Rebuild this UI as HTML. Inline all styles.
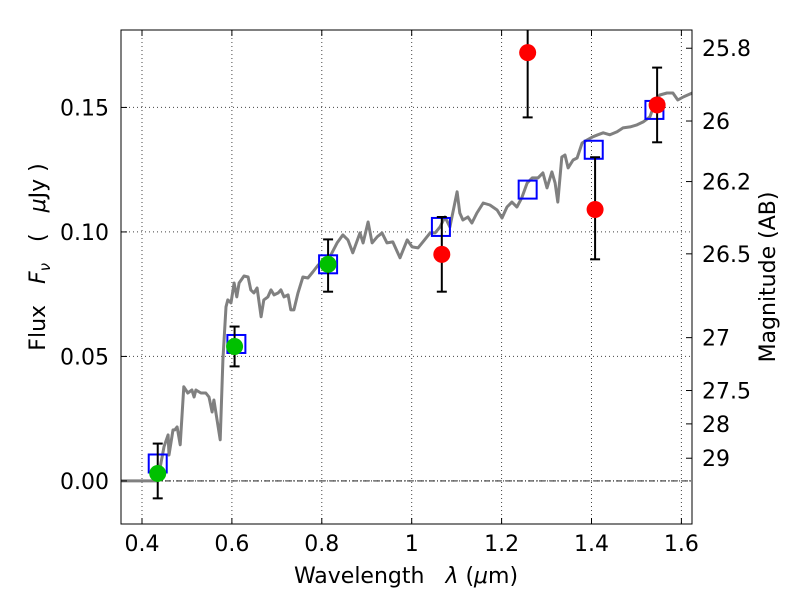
<!DOCTYPE html>
<html><head><meta charset="utf-8"><style>
body{margin:0;background:#fff;}
svg text{font-family:"DejaVu Sans","Liberation Sans",sans-serif;white-space:pre;}
</style></head><body>
<svg id="chart" width="800" height="600" xmlns="http://www.w3.org/2000/svg">
<defs><clipPath id="clip"><rect x="121" y="30" width="571" height="494"/></clipPath></defs>
<rect x="0" y="0" width="800" height="600" fill="#fff"/>
<g id="grid"></g>
<g id="marks" clip-path="url(#clip)"></g>
<rect x="121" y="30" width="571" height="494" fill="none" stroke="#000" stroke-width="1"/>
<g id="ticks"></g>
<text x="406" y="583" font-size="22" text-anchor="middle" xml:space="preserve">Wavelength   <tspan font-style="italic">λ</tspan> (<tspan font-style="italic">μ</tspan>m)</text>
<text transform="translate(45,257) rotate(-90)" font-size="22" text-anchor="middle" xml:space="preserve">Flux   <tspan font-style="italic">F</tspan><tspan font-style="italic" font-size="15" dy="5">ν</tspan><tspan dy="-5">   (   </tspan><tspan font-style="italic">μ</tspan>Jy )</text>
<text transform="translate(775,277) rotate(-90)" font-size="22" text-anchor="middle">Magnitude (AB)</text>
</svg>
<script>
const specLam=[0.353,0.433,0.436,0.449,0.458,0.460,0.469,0.473,0.478,0.485,0.493,0.502,0.511,0.516,0.520,0.531,0.542,0.549,0.556,0.560,0.574,0.580,0.587,0.591,0.598,0.605,0.611,0.616,0.627,0.636,0.642,0.649,0.656,0.665,0.671,0.680,0.687,0.694,0.703,0.709,0.716,0.725,0.731,0.738,0.747,0.758,0.769,0.780,0.792,0.818,0.834,0.847,0.858,0.869,0.885,0.892,0.903,0.912,0.923,0.934,0.945,0.958,0.974,0.990,1.001,1.014,1.025,1.041,1.052,1.063,1.074,1.085,1.101,1.107,1.114,1.125,1.134,1.145,1.159,1.174,1.190,1.201,1.212,1.223,1.234,1.245,1.257,1.268,1.281,1.292,1.301,1.312,1.319,1.325,1.334,1.341,1.348,1.359,1.368,1.379,1.390,1.403,1.414,1.426,1.441,1.457,1.470,1.486,1.501,1.515,1.530,1.541,1.552,1.568,1.581,1.592,1.604,1.624];
const specFlux=[0,0,0.0012,0.0137,0.0185,0.0104,0.0205,0.0205,0.0217,0.0145,0.0378,0.0353,0.0365,0.0337,0.0365,0.0353,0.0353,0.0337,0.0277,0.0325,0.0165,0.0486,0.0699,0.0727,0.0715,0.0795,0.0739,0.0795,0.0823,0.0819,0.0767,0.0755,0.0775,0.0659,0.0727,0.0739,0.0767,0.0747,0.0755,0.0767,0.0739,0.0747,0.0687,0.0687,0.0755,0.0819,0.0815,0.0839,0.0867,0.0900,0.0956,0.0988,0.0968,0.0916,0.0996,0.0956,0.1040,0.0956,0.0980,0.0996,0.0956,0.0960,0.0896,0.0968,0.0940,0.0936,0.0960,0.0996,0.0996,0.1020,0.1060,0.1020,0.1161,0.1076,0.1048,0.1060,0.1036,0.1076,0.1116,0.1108,0.1088,0.1056,0.1100,0.1120,0.1100,0.1137,0.1197,0.1217,0.1217,0.1237,0.1177,0.1241,0.1197,0.1120,0.1301,0.1309,0.1257,0.1289,0.1297,0.1357,0.1369,0.1382,0.1390,0.1398,0.1390,0.1402,0.1418,0.1422,0.1430,0.1442,0.1462,0.1518,0.1550,0.1558,0.1558,0.1530,0.1542,0.1558];
const greenLam=[0.435,0.606,0.814];
const greenFlux=[0.003,0.054,0.087];
const greenLo=[-0.007,0.046,0.076];
const greenHi=[0.015,0.062,0.097];
const redLam=[1.067,1.258,1.408,1.546];
const redFlux=[0.091,0.172,0.109,0.151];
const redLo=[0.076,0.146,0.089,0.136];
const redHi=[0.106,0.200,0.130,0.166];
const modelLam=[0.435,0.610,0.814,1.065,1.258,1.405,1.540];
const modelFlux=[0.007,0.055,0.087,0.102,0.117,0.133,0.149];
const xTicks=[0.4,0.6,0.8,1.0,1.2,1.4,1.6];
const xTickLabels=["0.4","0.6","0.8","1","1.2","1.4","1.6"];
const yTicks=[0,0.05,0.10,0.15];
const yTickLabels=["0.00","0.05","0.10","0.15"];
const magTicks=[25.8,26,26.2,26.5,27,27.5,28,29];
const magTickLabels=["25.8","26","26.2","26.5","27","27.5","28","29"];

const NS="http://www.w3.org/2000/svg";
const X0=121,X1=692,Y0=30,Y1=524,xmin=0.3533,xmax=1.6236,ymin=-0.0173,ymax=0.1811;
function sx(v){return X0+(v-xmin)/(xmax-xmin)*(X1-X0);}
function sy(v){return Y1-(v-ymin)/(ymax-ymin)*(Y1-Y0);}
function mk(tag,attrs,parent){const e=document.createElementNS(NS,tag);for(const k in attrs)e.setAttribute(k,attrs[k]);parent.appendChild(e);return e;}
const grid=document.getElementById('grid'),marks=document.getElementById('marks'),ticks=document.getElementById('ticks');

xTicks.forEach((v,i)=>{
  const l=mk('line',{x1:sx(v),x2:sx(v),y1:Y0,y2:Y1,stroke:'#444','stroke-dasharray':'1,3','stroke-width':1},grid);
  
  
  mk('line',{x1:sx(v),x2:sx(v),y1:Y1,y2:Y1-6,stroke:'#000'},ticks);
  mk('line',{x1:sx(v),x2:sx(v),y1:Y0,y2:Y0+6,stroke:'#000'},ticks);
  const t=mk('text',{x:sx(v),y:Y1+27,'font-size':22,'text-anchor':'middle'},ticks);
  t.textContent=xTickLabels[i];
  
  
});
yTicks.forEach((v,i)=>{
  const l=mk('line',{x1:X0,x2:X1,y1:sy(v),y2:sy(v),stroke:'#444','stroke-dasharray':'1,3','stroke-width':1},grid);
  
  
  mk('line',{x1:X0,x2:X0+6,y1:sy(v),y2:sy(v),stroke:'#000'},ticks);
  const t=mk('text',{x:X0-12,y:sy(v)+8,'font-size':22,'text-anchor':'end'},ticks);
  t.textContent=yTickLabels[i];
  
  
});
magTicks.forEach((m,i)=>{
  const f=Math.pow(10,(23.9-m)/2.5);
  const y=sy(f);
  mk('line',{x1:X1,x2:X1-6,y1:y,y2:y,stroke:'#000'},ticks);
  const t=mk('text',{x:X1+10,y:y+8,'font-size':22,'text-anchor':'start'},ticks);
  t.textContent=magTickLabels[i];
  
  
});
const z=mk('line',{x1:X0,x2:X1,y1:sy(0),y2:sy(0),stroke:'#000','stroke-width':0.8,'stroke-dasharray':'6,2,1,2'},marks);


const sp=mk('polyline',{points:specLam.map((l,i)=>sx(l).toFixed(1)+','+sy(specFlux[i]).toFixed(1)).join(' '),fill:'none',stroke:'#808080','stroke-width':3,'stroke-linejoin':'round'},marks);


function errbar(lam,lo,hi,name){
  const x=sx(lam);
  const g=mk('g',{},marks);
  
  
  mk('line',{x1:x,x2:x,y1:sy(lo),y2:sy(hi),stroke:'#000','stroke-width':2},g);
  mk('line',{x1:x-5,x2:x+5,y1:sy(lo),y2:sy(lo),stroke:'#000','stroke-width':2},g);
  mk('line',{x1:x-5,x2:x+5,y1:sy(hi),y2:sy(hi),stroke:'#000','stroke-width':2},g);
}
modelLam.forEach((l,i)=>{
  const r=mk('rect',{x:sx(l)-9,y:sy(modelFlux[i])-9,width:18,height:18,fill:'none',stroke:'#0000ff','stroke-width':2},marks);
  
  
});
greenLam.forEach((l,i)=>{
  errbar(l,greenLo[i],greenHi[i],'green-error-bar');
  const c=mk('circle',{cx:sx(l),cy:sy(greenFlux[i]),r:8.5,fill:'#00c000'},marks);
  
  
});
redLam.forEach((l,i)=>{
  errbar(l,redLo[i],redHi[i],'red-error-bar');
  const c=mk('circle',{cx:sx(l),cy:sy(redFlux[i]),r:8.5,fill:'#ff0000'},marks);
  
  
});
</script>
</body></html>
